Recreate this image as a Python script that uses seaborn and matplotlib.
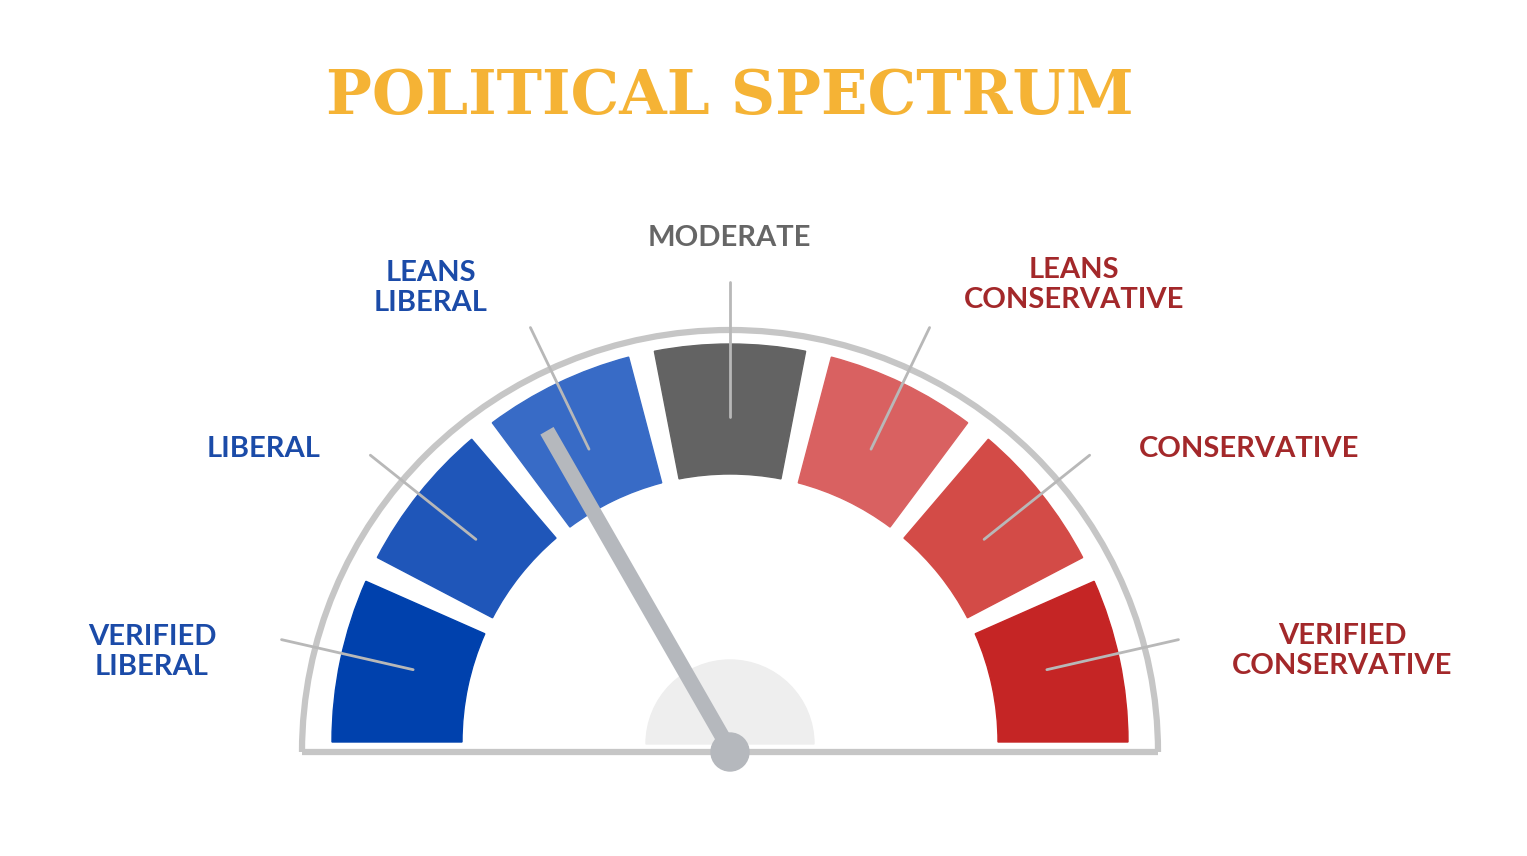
import numpy as np
import matplotlib
matplotlib.use("Agg")
import matplotlib.pyplot as plt
from matplotlib.patches import Wedge, Arc, Circle
import seaborn as sns

sns.set_theme(style="white")
plt.rcParams['font.family'] = ['Lato', 'DejaVu Sans']

categories = ["VERIFIED\nLIBERAL", "LIBERAL", "LEANS\nLIBERAL", "MODERATE",
              "LEANS\nCONSERVATIVE", "CONSERVATIVE", "VERIFIED\nCONSERVATIVE"]
seg_colors = ["#0041AD", "#1F56B9", "#386BC6", "#636363", "#D96161", "#D34B47", "#C52525"]
label_colors = ["#1B4BA8", "#1B4BA8", "#1B4BA8", "#666666", "#A3282A", "#A3282A", "#A3282A"]
label_pos = [(152, 652), (264, 449), (431, 288), (729, 238), (1074, 285), (1249, 449), (1342, 651)]
needle_value = 2.34  # in segment units from the left (0..7)

W, H = 1527, 856
fig = plt.figure(figsize=(W / 100, H / 100), dpi=100)
ax = fig.add_axes([0, 0, 1, 1])
ax.set_xlim(0, W)
ax.set_ylim(0, H)
ax.set_aspect("equal")
ax.axis("off")

cx, cy = 730, H - 750
n = len(categories)
span = 180 / n
gap = 3.8
r_in, r_out = 268, 398

# faint hub backdrop
ax.add_patch(Wedge((cx, cy + 6), 84, 0, 180, color="#EEEEEE", zorder=1))

for i, col in enumerate(seg_colors):
    a2 = 180 - i * span - (gap / 2 if i > 0 else 0)
    a1 = 180 - (i + 1) * span + (gap / 2 if i < n - 1 else 0)
    ax.add_patch(Wedge((cx, cy + 8), r_out, a1, a2, width=r_out - r_in, color=col, zorder=2))

# outer arc & baseline
ax.add_patch(Arc((cx, cy - 2), 2 * 428, 2 * 422, theta1=0, theta2=180, color="#C6C6C6", lw=4.5, zorder=1))
ax.plot([cx - 428, cx + 428], [cy - 2, cy - 2], color="#C6C6C6", lw=4.5, zorder=1, solid_capstyle="butt")

# pointer lines and labels
for i, (lab, lc, (lx, ly)) in enumerate(zip(categories, label_colors, label_pos)):
    ang = np.deg2rad(180 - (i + 0.5) * span)
    rr = np.array([325, 460])
    ax.plot(cx + rr * np.cos(ang), cy + 8 + rr * np.sin(ang), color="#B8B8B8", lw=2, zorder=3)
    ax.text(lx, H - ly, lab, color=lc, fontsize=21, fontweight="bold", ha="center", va="center",
            linespacing=1.15, zorder=4)

# needle
na = np.deg2rad(180 - needle_value * span)
L = 368
ax.plot([cx, cx + L * np.cos(na)], [cy, cy + L * np.sin(na)], color="#B5B8BD", lw=11,
        solid_capstyle="butt", zorder=5)
ax.add_patch(Circle((cx, cy - 2), 19, color="#B5B8BD", zorder=6))

ax.text(730, H - 97, "POLITICAL SPECTRUM", color="#F5B335", fontsize=44, fontweight="black",
        family=["DejaVu Serif"], ha="center", va="center")

fig.savefig("out.png", dpi=100, facecolor="white")
